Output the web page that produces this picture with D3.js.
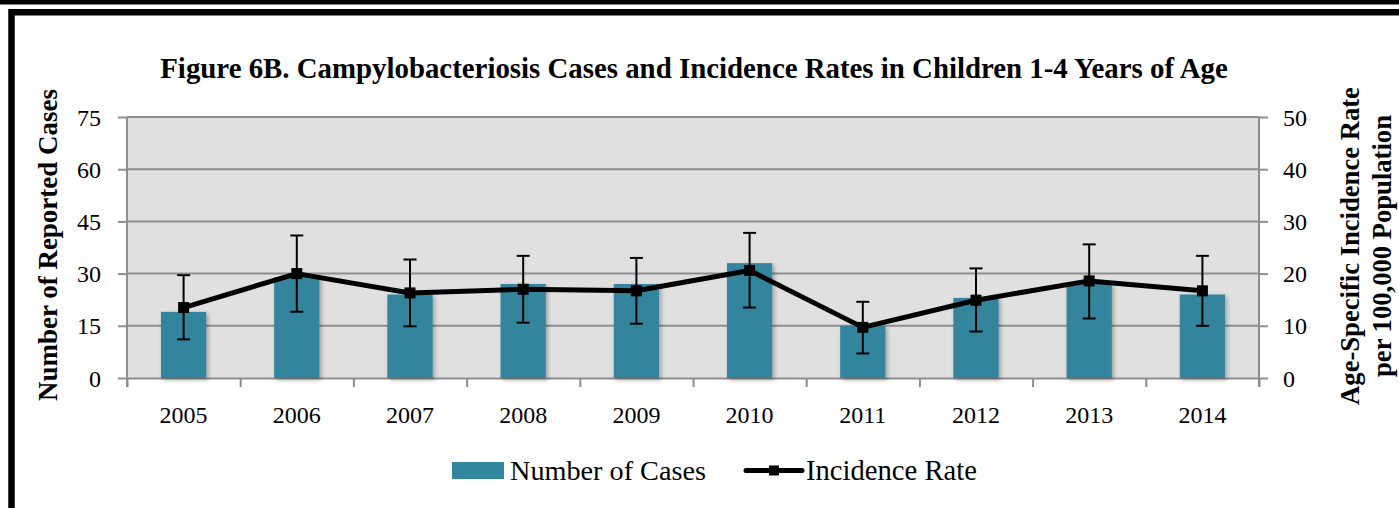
<!DOCTYPE html>
<html>
<head>
<meta charset="utf-8">
<script src="https://cdn.jsdelivr.net/npm/d3@7"></script>
<style>
html,body{margin:0;padding:0;background:#fff;}
svg{display:block;}
</style>
</head>
<body>
<svg id="chart" width="1399" height="508"></svg>
<script>
// ---- data ----
const years = ["2005","2006","2007","2008","2009","2010","2011","2012","2013","2014"];
const cases = [19, 29, 24, 27, 27, 33, 15, 23, 27, 24];
const rates = [13.5, 20.0, 16.3, 17.0, 16.7, 20.6, 9.7, 14.9, 18.6, 16.7];
const rateLower = [7.4, 12.7, 9.9, 10.6, 10.4, 13.5, 4.7, 8.9, 11.4, 10.0];
const rateUpper = [19.7, 27.3, 22.7, 23.4, 23.0, 27.8, 14.6, 21.0, 25.6, 23.4];
const leftTicks = [0, 15, 30, 45, 60, 75];
const rightTicks = [0, 10, 20, 30, 40, 50];
const titleText = "Figure 6B. Campylobacteriosis Cases and Incidence Rates in Children 1-4 Years of Age";
const leftTitle = "Number of Reported Cases";
const rightTitle1 = "Age-Specific Incidence Rate";
const rightTitle2 = "per 100,000 Population";
const legendLabels = ["Number of Cases", "Incidence Rate"];

const FONT = "'Liberation Serif', 'DejaVu Serif', serif";
const BAR = "#31859c";
const GRID = "#8e8e8e";

const svg = d3.select("#chart");
const L = 127, R = 1259, T = 117, B = 378;

const defs = svg.append("defs");
const f = defs.append("filter").attr("id","shadow").attr("x","-20%").attr("y","-20%").attr("width","150%").attr("height","150%");
f.append("feDropShadow").attr("dx",2).attr("dy",2).attr("stdDeviation",2).attr("flood-color","#000").attr("flood-opacity",0.3);

// frame
svg.append("rect").attr("x",0).attr("y",0).attr("width",1399).attr("height",4.5).attr("fill","#000");
svg.append("path").attr("d","M11.5,530V12.2H1420").attr("fill","none").attr("stroke","#000").attr("stroke-width",6.5);

// scales
const x = d3.scaleBand().domain(years).range([L, R]).paddingInner(0.6).paddingOuter(0.3);
const xb = d3.scaleLinear().domain([0, years.length]).range([L, R]);
const yL = d3.scaleLinear().domain([0, 75]).range([B, T]);
const yR = d3.scaleLinear().domain([0, 50]).range([B, T]);

// plot background
svg.append("rect").attr("x",L).attr("y",T).attr("width",R-L).attr("height",B-T).attr("fill","#e0e0e0");

// gridlines
svg.append("g").selectAll("line").data(leftTicks.filter(d=>d>0)).join("line")
  .attr("x1",L).attr("x2",R).attr("y1",d=>yL(d)).attr("y2",d=>yL(d))
  .attr("stroke",GRID).attr("stroke-width",2);

// left axis
const gl = svg.append("g").attr("transform",`translate(${L},0)`)
  .call(d3.axisLeft(yL).tickValues(leftTicks).tickSize(9).tickPadding(17).tickSizeOuter(0));
// right axis
const gr = svg.append("g").attr("transform",`translate(${R},0)`)
  .call(d3.axisRight(yR).tickValues(rightTicks).tickSize(9).tickPadding(15).tickSizeOuter(0));
// bottom axis ticks at boundaries
const gb = svg.append("g").attr("transform",`translate(0,${B})`)
  .call(d3.axisBottom(xb).ticks(years.length).tickFormat("").tickSize(9).tickSizeOuter(0));
// bottom labels
const gbl = svg.append("g").attr("transform",`translate(0,${B})`)
  .call(d3.axisBottom(x).tickSize(0).tickPadding(40));
gbl.select(".domain").remove();

[gl, gr, gb].forEach(g => {
  g.selectAll(".domain").attr("stroke",GRID).attr("stroke-width",2);
  g.selectAll(".tick line").attr("stroke",GRID).attr("stroke-width",2);
});
gl.select(".domain").attr("d",`M0,${B+9}V${T}`);
gr.select(".domain").attr("d",`M0,${B+9}V${T}`);
svg.append("line").attr("x1",L).attr("x2",R).attr("y1",T).attr("y2",T).attr("stroke",GRID).attr("stroke-width",2);

[gl, gr, gbl].forEach(g => {
  g.selectAll(".tick text").attr("font-family",FONT).attr("font-size",24).attr("fill","#000");
});
gl.selectAll(".tick text").attr("dy","0.34em");
gr.selectAll(".tick text").attr("dy","0.34em");
gbl.selectAll(".tick text").attr("dy","0.2em");

// bars
svg.append("g").selectAll("rect").data(years).join("rect")
  .attr("x",d=>x(d)).attr("width",x.bandwidth())
  .attr("y",(d,i)=>yL(cases[i])).attr("height",(d,i)=>yL(0)-yL(cases[i]))
  .attr("fill",BAR).attr("filter","url(#shadow)");

// line
const cx = d => x(d) + x.bandwidth()/2;
svg.append("path").datum(years)
  .attr("d", d3.line().x(d=>cx(d)).y((d,i)=>yR(rates[i])))
  .attr("fill","none").attr("stroke","#000").attr("stroke-width",5).attr("stroke-linejoin","round");

// error bars
const eb = svg.append("g").attr("stroke","#000").attr("stroke-width",2);
years.forEach((d,i)=>{
  const c = cx(d);
  eb.append("line").attr("x1",c).attr("x2",c).attr("y1",yR(rateLower[i])).attr("y2",yR(rateUpper[i]));
  eb.append("line").attr("x1",c-6.5).attr("x2",c+6.5).attr("y1",yR(rateLower[i])).attr("y2",yR(rateLower[i]));
  eb.append("line").attr("x1",c-6.5).attr("x2",c+6.5).attr("y1",yR(rateUpper[i])).attr("y2",yR(rateUpper[i]));
});

// markers
svg.append("g").selectAll("rect").data(years).join("rect")
  .attr("x",d=>cx(d)-5.5).attr("y",(d,i)=>yR(rates[i])-5.5).attr("width",11).attr("height",11).attr("fill","#000");

function fit(sel, target, base){
  sel.attr("font-size", base);
  const len = sel.node().getComputedTextLength();
  const s = base * target / len;
  sel.attr("font-size", s);
  return s;
}

// title
const title = svg.append("text").attr("x",694).attr("y",78).attr("text-anchor","middle")
  .attr("font-family",FONT).attr("font-weight","bold").text(titleText);
fit(title, 1068, 23);

// left axis title
const lt = svg.append("text").attr("transform","translate(57,245) rotate(-90)").attr("text-anchor","middle")
  .attr("font-family",FONT).attr("font-weight","bold").text(leftTitle);
fit(lt, 312, 26);

// right titles
const rt1 = svg.append("text").attr("transform","translate(1359,246) rotate(-90)").attr("text-anchor","middle")
  .attr("font-family",FONT).attr("font-weight","bold").text(rightTitle1);
const rs = fit(rt1, 318, 26);
svg.append("text").attr("transform","translate(1391,246) rotate(-90)").attr("text-anchor","middle")
  .attr("font-family",FONT).attr("font-weight","bold").attr("font-size",rs).text(rightTitle2);

// legend
const lg = svg.append("g");
lg.append("rect").attr("x",452).attr("y",462).attr("width",52).attr("height",17).attr("fill",BAR);
const lt1 = lg.append("text").attr("x",510).attr("y",480).attr("font-family",FONT).text(legendLabels[0]);
fit(lt1, 196, 26);
lg.append("line").attr("x1",746).attr("x2",802).attr("y1",470.5).attr("y2",470.5).attr("stroke","#000").attr("stroke-width",5).attr("stroke-linecap","round");
lg.append("rect").attr("x",769).attr("y",465.5).attr("width",10).attr("height",10).attr("fill","#000");
const lt2 = lg.append("text").attr("x",806).attr("y",480).attr("font-family",FONT).text(legendLabels[1]);
fit(lt2, 171, 26);
</script>
</body>
</html>
